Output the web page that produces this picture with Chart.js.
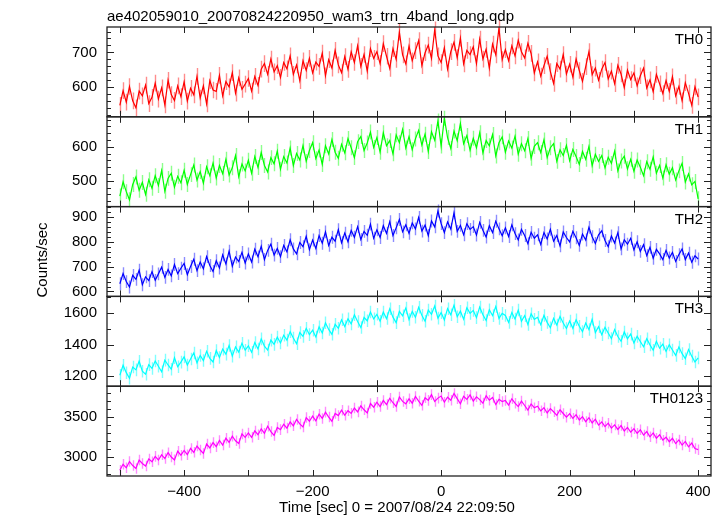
<!DOCTYPE html>
<html>
<head>
<meta charset="utf-8">
<script src="https://cdn.jsdelivr.net/npm/chart.js@4.4.0/dist/chart.umd.min.js"></script>
<style>
  html, body { margin: 0; padding: 0; background: #fff; }
  #wrap { width: 723px; height: 516px; position: relative; }
</style>
</head>
<body>
<div id="wrap"><canvas id="lc" width="723" height="516"></canvas></div>
<script>
// DATA
var title = 'ae402059010_20070824220950_wam3_trn_4band_long.qdp'
var xTitle = 'Time [sec] 0 = 2007/08/24 22:09:50'
var yTitle = 'Counts/sec'
var bands = ['TH0', 'TH1', 'TH2', 'TH3', 'TH0123']
var colors = ['#ff0000', '#00ff00', '#0000ff', '#00ffff', '#ff00ff']
var errColors = ['rgba(255,0,0,0.45)', 'rgba(0,255,0,0.45)', 'rgba(0,0,255,0.45)',
  'rgba(0,255,255,0.5)', 'rgba(255,0,255,0.45)']
// size of the error bars of each band (counts/sec)
var yErr = [24, 22, 26, 40, 65]

var times = [
  -500,-495,-490,-485,-480,-475,-470,-465,-460,-455,
  -450,-445,-440,-435,-430,-425,-420,-415,-410,-405,
  -400,-395,-390,-385,-380,-375,-370,-365,-360,-355,
  -350,-345,-340,-335,-330,-325,-320,-315,-310,-305,
  -300,-295,-290,-285,-280,-275,-270,-265,-260,-255,
  -250,-245,-240,-235,-230,-225,-220,-215,-210,-205,
  -200,-195,-190,-185,-180,-175,-170,-165,-160,-155,
  -150,-145,-140,-135,-130,-125,-120,-115,-110,-105,
  -100,-95,-90,-85,-80,-75,-70,-65,-60,-55,
  -50,-45,-40,-35,-30,-25,-20,-15,-10,-5,
  0,5,10,15,20,25,30,35,40,45,
  50,55,60,65,70,75,80,85,90,95,
  100,105,110,115,120,125,130,135,140,145,
  150,155,160,165,170,175,180,185,190,195,
  200,205,210,215,220,225,230,235,240,245,
  250,255,260,265,270,275,280,285,290,295,
  300,305,310,315,320,325,330,335,340,345,
  350,355,360,365,370,375,380,385,390,395,
  400
]

var th0 = [
  548,590,557,602,561,541,589,575,606,553,
  571,612,566,598,549,620,579,562,604,573,
  615,560,597,578,631,569,604,552,619,592,
  588,634,575,616,601,642,583,627,594,609,
  625,589,631,605,652,668,637,681,644,662,
  628,671,653,690,637,664,619,676,648,683,
  641,672,660,698,633,679,655,706,664,642,
  688,651,702,671,719,660,694,646,711,683,
  702,668,725,689,654,711,680,758,693,667,
  718,676,705,734,662,699,721,683,765,690,
  671,713,652,702,729,685,741,667,706,694,
  716,668,738,681,709,655,724,693,770,679,
  708,676,719,690,735,702,684,726,697,641,
  673,632,662,689,645,611,668,652,694,638,
  666,629,681,648,617,659,702,636,655,620,
  652,671,624,646,610,663,638,599,649,622,
  641,604,633,655,598,621,587,637,610,582,
  619,588,630,575,602,561,613,583,548,601,
  572
]

var th1 = [
  455,497,468,444,489,511,472,495,460,503,
  478,515,486,530,469,507,522,481,513,494,
  531,489,518,546,502,527,493,541,515,552,
  508,545,521,563,517,538,574,512,549,529,
  560,522,571,539,583,545,526,568,550,587,
  534,571,552,596,545,580,561,603,557,589,
  612,565,590,548,603,579,621,584,566,607,
  582,624,597,568,615,630,589,611,643,598,
  627,584,641,603,618,579,635,612,651,596,
  630,591,623,648,605,637,586,644,619,676,
  602,684,627,595,646,618,668,609,633,590,
  625,597,641,582,618,603,636,573,612,629,
  584,617,596,631,578,609,588,624,566,601,
  612,583,620,568,597,609,557,591,574,604,
  559,592,571,548,586,563,601,544,578,557,
  574,538,569,551,587,529,558,572,535,563,
  528,561,540,515,556,534,570,522,545,508,
  547,519,538,502,529,551,496,520,488,498,
  447
]

var th2 = [
  631,672,640,618,665,649,686,627,659,644,
  680,645,671,698,657,689,663,709,672,694,
  713,668,701,730,684,719,692,741,705,681,
  724,695,748,711,763,702,739,721,758,715,
  752,719,771,740,783,729,766,791,747,774,
  741,786,760,809,772,752,798,781,823,769,
  808,774,826,795,841,786,819,803,850,797,
  836,801,847,819,862,810,843,827,872,815,
  849,818,866,835,882,826,857,891,841,869,
  835,877,853,899,844,868,826,885,861,925,
  874,838,881,852,918,843,867,829,874,851,
  862,828,879,847,820,866,838,884,853,825,
  857,822,869,834,808,851,826,793,839,815,
  829,790,838,812,851,803,826,784,841,818,
  800,843,817,786,832,808,859,821,794,829,
  845,806,781,824,796,838,772,809,791,815,
  768,801,762,789,745,778,734,770,752,729,
  766,735,758,721,749,772,729,755,718,744,
  731
]

var th3 = [
  1205,1268,1221,1186,1257,1239,1294,1230,1211,1272,
  1248,1295,1262,1227,1301,1270,1243,1316,1259,1288,
  1321,1270,1308,1346,1284,1330,1298,1357,1312,1289,
  1362,1318,1371,1339,1394,1326,1385,1352,1408,1364,
  1392,1351,1413,1372,1436,1390,1365,1428,1401,1447,
  1410,1459,1428,1482,1441,1405,1476,1452,1503,1463,
  1491,1448,1512,1473,1538,1496,1465,1529,1503,1557,
  1514,1563,1531,1589,1546,1508,1572,1551,1607,1563,
  1592,1548,1606,1565,1627,1574,1539,1611,1583,1632,
  1559,1610,1573,1637,1586,1548,1619,1592,1645,1568,
  1603,1556,1628,1589,1649,1577,1612,1561,1634,1598,
  1617,1571,1638,1589,1553,1621,1584,1642,1566,1598,
  1585,1541,1603,1562,1619,1548,1584,1527,1596,1560,
  1573,1526,1585,1541,1507,1566,1524,1578,1537,1502,
  1549,1503,1558,1516,1482,1537,1495,1561,1476,1513,
  1462,1509,1473,1438,1495,1451,1421,1480,1437,1466,
  1410,1452,1419,1386,1437,1398,1364,1421,1377,1402,
  1356,1398,1365,1331,1384,1342,1310,1368,1326,1289,
  1315
]

var th0123 = [
  2840,2915,2871,2948,2899,2862,2967,2925,2893,2981,
  2946,3012,2968,3031,2985,3058,3004,2969,3076,3027,
  3085,3033,3110,3062,3139,3091,3048,3164,3117,3182,
  3131,3209,3152,3236,3184,3262,3205,3171,3289,3246,
  3301,3248,3326,3279,3352,3296,3384,3318,3271,3369,
  3342,3408,3361,3437,3389,3468,3412,3375,3491,3446,
  3509,3451,3532,3480,3558,3497,3446,3541,3515,3582,
  3520,3576,3543,3609,3561,3635,3587,3548,3664,3619,
  3680,3627,3702,3651,3729,3674,3628,3745,3690,3661,
  3722,3668,3751,3694,3643,3736,3703,3774,3689,3731,
  3756,3681,3742,3705,3788,3724,3662,3753,3716,3770,
  3694,3747,3712,3669,3761,3705,3738,3652,3716,3688,
  3701,3646,3722,3668,3627,3694,3640,3583,3659,3612,
  3631,3574,3612,3548,3602,3563,3519,3587,3541,3496,
  3538,3481,3527,3462,3503,3441,3489,3425,3471,3398,
  3436,3379,3422,3361,3401,3345,3392,3326,3370,3312,
  3353,3296,3340,3275,3318,3254,3301,3237,3279,3212,
  3248,3193,3236,3170,3215,3152,3197,3130,3176,3108,
  3095
]

var series = [th0, th1, th2, th3, th0123]

// axes
var xRange = [-520, 420]
var xTicks = [-500, -400, -300, -200, -100, 0, 100, 200, 300, 400]
var xLabels = [-400, -200, 0, 200, 400]
var yRanges = [[515, 773], [424, 688], [580, 943], [1135, 1706], [2770, 3878]]
var yLabels = [[600, 700], [500, 600], [600, 700, 800, 900], [1200, 1400, 1600], [3000, 3500]]
var yMinor = [20, 20, 20, 100, 100]


var fontFamily = "'Liberation Sans', Arial, Helvetica, sans-serif"
Chart.defaults.font.family = fontFamily
Chart.defaults.font.size = 15
Chart.defaults.color = '#000'

function fmtX(v) {
  return v < 0 ? '\u2212' + Math.abs(v) : String(v)
}

var scales = {
  x: {
    type: 'linear',
    position: 'bottom',
    min: xRange[0],
    max: xRange[1],
    grid: { display: false, drawTicks: false },
    border: { display: false },
    afterBuildTicks: function(s) {
      s.ticks = xTicks.map(v => ({ value: v }))
    },
    ticks: {
      autoSkip: false,
      maxRotation: 0,
      padding: 7,
      callback: v => xLabels.includes(v) ? fmtX(v) : ''
    },
    afterFit: function(s) { s.height = 40 }
  }
}

// y axes stacked on the left, one per panel
// (chart.js puts the last stacked left axis on top, so add them bottom first)
for (let i = bands.length - 1; i >= 0; i--) {
  let labels = yLabels[i]
  scales['y' + i] = {
    type: 'linear',
    position: 'left',
    stack: 'panels',
    stackWeight: 1,
    min: yRanges[i][0],
    max: yRanges[i][1],
    grid: { display: false, drawTicks: false },
    border: { display: false },
    afterBuildTicks: function(s) {
      s.ticks = labels.map(v => ({ value: v }))
    },
    ticks: {
      autoSkip: false,
      padding: 10,
      callback: v => String(v)
    },
    afterFit: function(s) { s.width = 107 }
  }
}

var datasets = series.map((d, i) => ({
  label: bands[i],
  data: times.map((t, k) => ({ x: t, y: d[k] })),
  borderColor: colors[i],
  borderWidth: 1.2,
  pointRadius: 0,
  tension: 0,
  xAxisID: 'x',
  yAxisID: 'y' + i
}))

// qdp style vertical error bars, drawn under the lines
var errorBars = {
  id: 'errorBars',
  beforeDatasetsDraw: function(chart) {
    let ctx = chart.ctx
    let xs = chart.scales.x
    ctx.save()
    ctx.lineWidth = 1.4
    for (let i = 0; i < series.length; i++) {
      let ys = chart.scales['y' + i]
      ctx.strokeStyle = errColors[i]
      ctx.beginPath()
      series[i].forEach((v, k) => {
        let px = Math.round(xs.getPixelForValue(times[k])) + 0.5
        ctx.moveTo(px, ys.getPixelForValue(v + yErr[i]))
        ctx.lineTo(px, ys.getPixelForValue(v - yErr[i]))
      })
      ctx.stroke()
    }
    ctx.restore()
  }
}

// frame, inward ticks and texts
var qdpFrame = {
  id: 'qdpFrame',
  afterDraw: function(chart) {
    let ctx = chart.ctx
    let area = chart.chartArea
    let xs = chart.scales.x

    ctx.save()
    ctx.strokeStyle = '#222'
    ctx.fillStyle = '#000'

    for (let i = 0; i < bands.length; i++) {
      let ys = chart.scales['y' + i]
      let top = ys.top, bottom = ys.bottom

      ctx.lineWidth = 1.3
      ctx.strokeRect(area.left, top, area.right - area.left, bottom - top)

      ctx.lineWidth = 1
      ctx.beginPath()
      xTicks.forEach(v => {
        let px = Math.round(xs.getPixelForValue(v)) + 0.5
        ctx.moveTo(px, top); ctx.lineTo(px, top + 6)
        ctx.moveTo(px, bottom); ctx.lineTo(px, bottom - 6)
      })
      let step = yMinor[i]
      for (let v = Math.ceil(yRanges[i][0] / step) * step; v <= yRanges[i][1]; v += step) {
        let py = Math.round(ys.getPixelForValue(v)) + 0.5
        let len = yLabels[i].includes(v) ? 7 : 4
        ctx.moveTo(area.left, py); ctx.lineTo(area.left + len, py)
        ctx.moveTo(area.right, py); ctx.lineTo(area.right - len, py)
      }
      ctx.stroke()

      ctx.font = '15px ' + fontFamily
      ctx.textAlign = 'right'
      ctx.textBaseline = 'alphabetic'
      ctx.fillText(bands[i], area.right - 8, top + 17)
    }

    ctx.font = '15px ' + fontFamily
    ctx.textAlign = 'left'
    ctx.fillText(title, area.left, 21)

    ctx.textAlign = 'center'
    ctx.fillText(xTitle, 397, 512)

    ctx.translate(47, 260)
    ctx.rotate(-Math.PI / 2)
    ctx.fillText(yTitle, 0, 0)
    ctx.restore()
  }
}

var lightCurve = new Chart(document.getElementById('lc'), {
  type: 'line',
  data: { datasets: datasets },
  options: {
    responsive: false,
    animation: false,
    layout: { padding: { top: 27, right: 12, left: 0, bottom: 0 } },
    scales: scales,
    plugins: {
      legend: { display: false },
      tooltip: { enabled: false },
      title: { display: false }
    }
  },
  plugins: [errorBars, qdpFrame]
})
</script>
</body>
</html>
